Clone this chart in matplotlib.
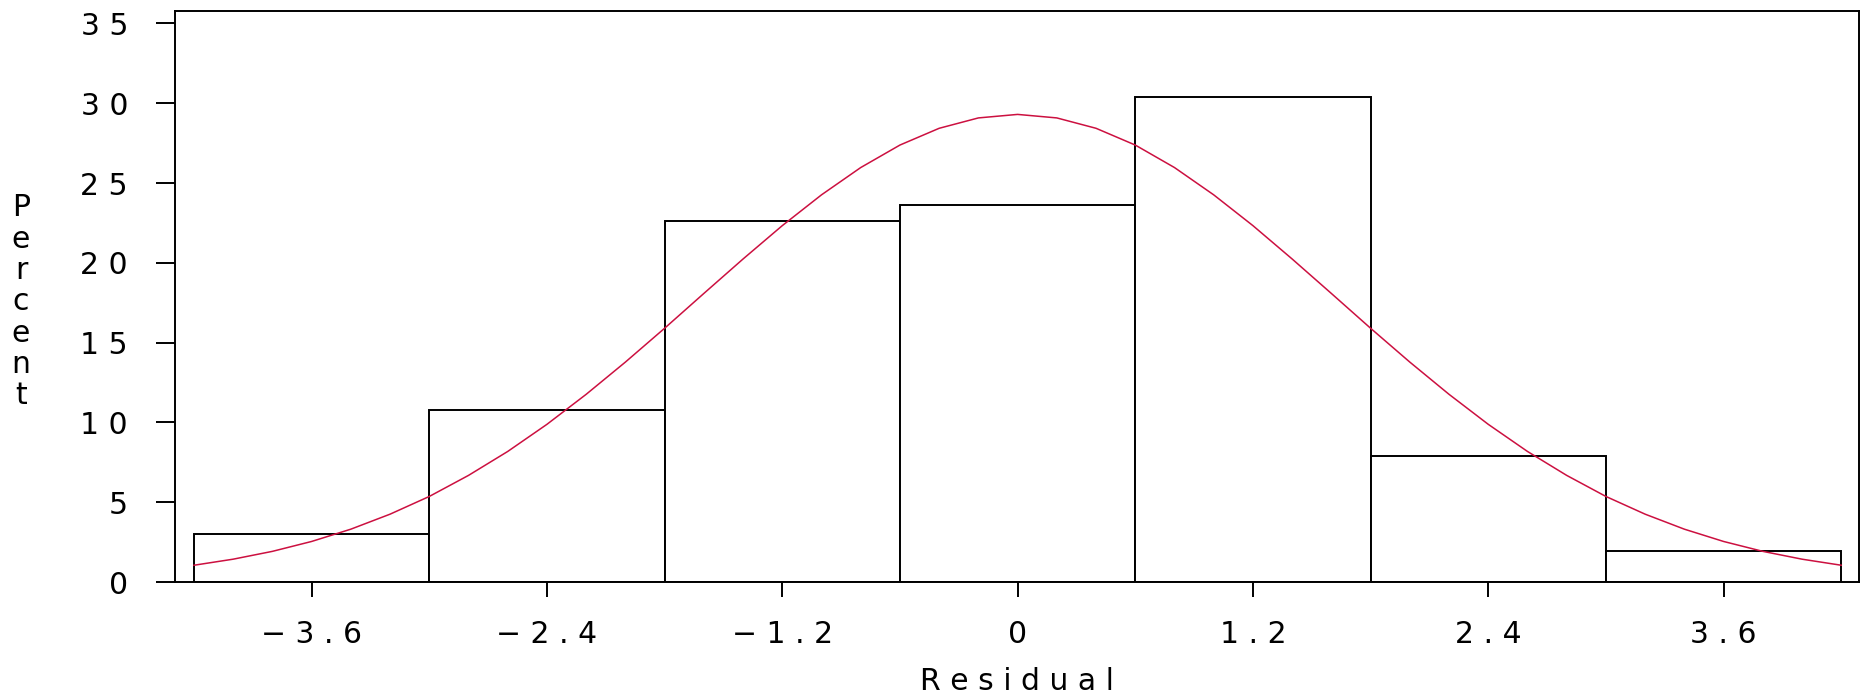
import matplotlib.pyplot as plt

plt.rcParams['font.family'] = ['DejaVu Sans']

# residual histogram (percent of obs per bin)
bin_mid = [-3.6, -2.4, -1.2, 0.0, 1.2, 2.4, 3.6]
pct = [3.0, 10.75, 22.6, 23.6, 30.4, 7.9, 1.95]
bin_width = 1.2

# fitted normal curve, scaled to percent per bin
curve_x = [-4.2, -4.0, -3.8, -3.6, -3.4, -3.2, -3.0, -2.8, -2.6, -2.4, -2.2,
           -2.0, -1.8, -1.6, -1.4, -1.2, -1.0, -0.8, -0.6, -0.4, -0.2, 0.0,
           0.2, 0.4, 0.6, 0.8, 1.0, 1.2, 1.4, 1.6, 1.8, 2.0, 2.2, 2.4, 2.6,
           2.8, 3.0, 3.2, 3.4, 3.6, 3.8, 4.0, 4.2]
curve_y = [1.05, 1.43, 1.92, 2.54, 3.31, 4.25, 5.36, 6.68, 8.18, 9.88, 11.76,
           13.78, 15.90, 18.08, 20.24, 22.33, 24.26, 25.97, 27.38, 28.43,
           29.08, 29.30, 29.08, 28.43, 27.38, 25.97, 24.26, 22.33, 20.24,
           18.08, 15.90, 13.78, 11.76, 9.88, 8.18, 6.68, 5.36, 4.25, 3.31,
           2.54, 1.92, 1.43, 1.05]

xtick_labels = ['−3.6', '−2.4', '−1.2', '0', '1.2', '2.4', '3.6']
yticks = [0, 5, 10, 15, 20, 25, 30, 35]


def spaced(s):
    # old device fonts print every glyph on a wide fixed pitch
    return ' '.join(s)


fig = plt.figure(figsize=(18.64, 6.97), dpi=100)
ax = fig.add_axes([0.09405, 0.16499, 0.90343, 0.81923])

ax.bar(bin_mid, pct, width=bin_width, color='white', edgecolor='black',
       linewidth=1.4, zorder=2)
ax.plot(curve_x, curve_y, color='#cc1040', linewidth=1.1, zorder=3)

ax.set_xlim(-4.295, 4.292)
ax.set_ylim(0, 35.78)

ax.set_xticks(bin_mid)
ax.set_xticklabels([spaced(t) for t in xtick_labels])
ax.set_yticks(yticks)
ax.set_yticklabels([spaced(str(v)) for v in yticks])

ax.tick_params(axis='x', direction='out', length=11, width=1.4,
               labelsize=21.5, pad=16)
ax.tick_params(axis='y', direction='out', length=14, width=1.4,
               labelsize=21.5, pad=20)
for sp in ax.spines.values():
    sp.set_linewidth(1.4)

fig.text(1017 / 1864, 1 - 682 / 697, spaced('Residual'), fontsize=21.5,
         ha='center', va='center')
for i, ch in enumerate('Percent'):
    fig.text(21 / 1864, 1 - (208 + i * 31.3) / 697, ch, fontsize=21.5,
             ha='center', va='center')

fig.savefig('out.png', dpi=100)
